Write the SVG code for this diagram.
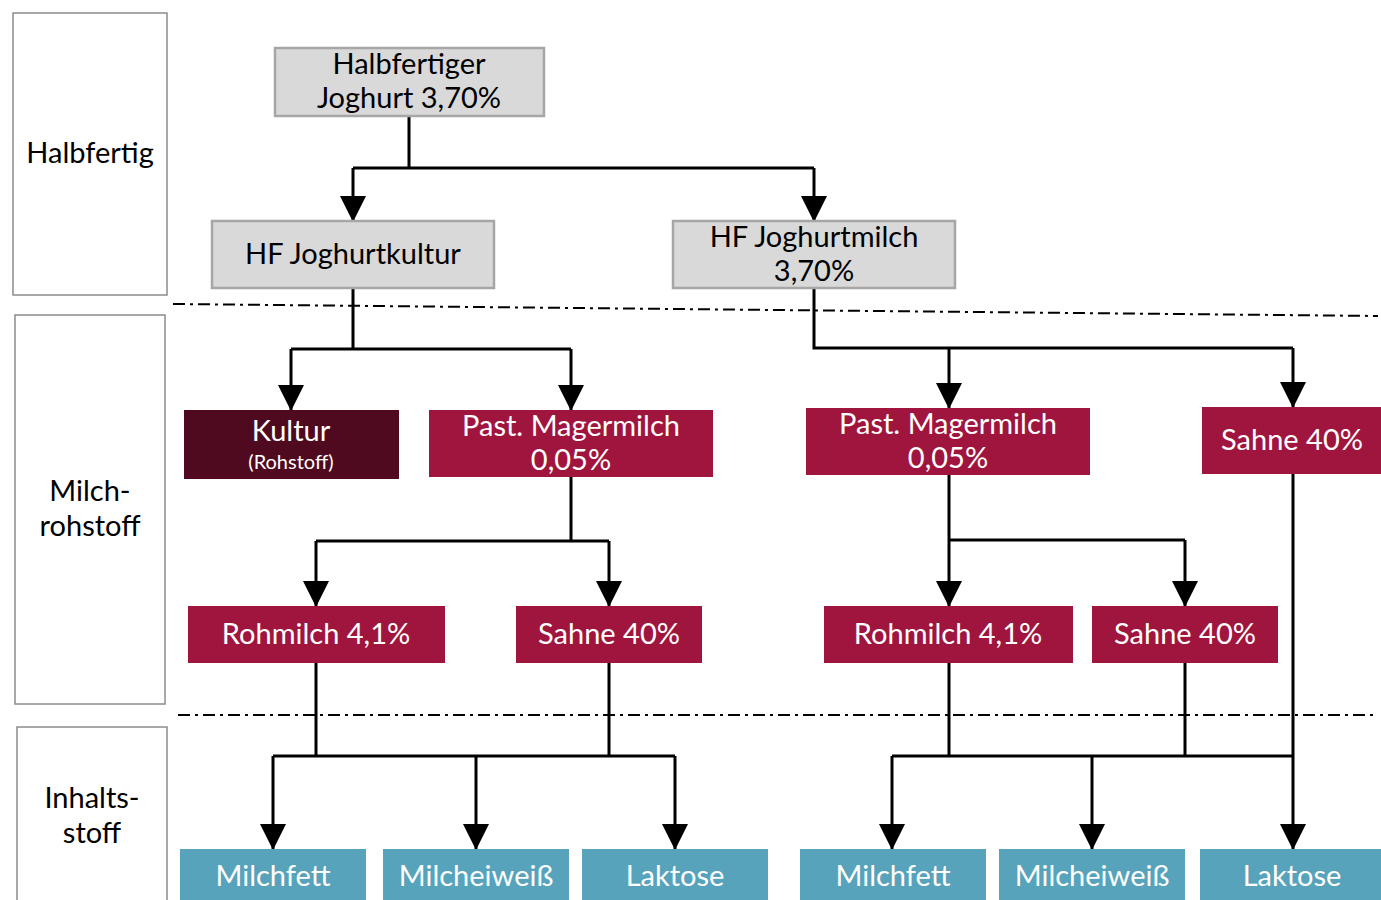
<svg xmlns="http://www.w3.org/2000/svg" width="1381" height="900" viewBox="0 0 1381 900">
<defs>
<marker id="ah" markerWidth="26" markerHeight="26" viewBox="0 0 26 26" refX="25" refY="13" orient="auto" markerUnits="userSpaceOnUse">
<path d="M0,0 L26,13 L0,26 Z" fill="#000"/>
</marker>
<style>
text{font-family:Lato,"Open Sans","Liberation Sans",sans-serif;font-size:29px;text-anchor:middle}
.lab{fill:#fff;stroke:#8c8c8c;stroke-width:1.5}
.hf{fill:#d9d9d9;stroke:#a6a6a6;stroke-width:2.5}
.mr{fill:#a0153e}
.ku{fill:#4f0a1f}
.is{fill:#57a3bb}
.w{fill:#fff}
.k{fill:#000}
.c path{fill:none;stroke:#000;stroke-width:3}
.arr{marker-end:url(#ah)}
.dd{fill:none;stroke:#000;stroke-width:2;stroke-dasharray:12,5,3,5}
</style>
</defs>
<rect width="1381" height="900" fill="#fff"/>
<g id="lane-halbfertig"><rect class="lab" x="13" y="13" width="154" height="282"/><text class="k" x="90" y="163">Halbfertig</text></g>
<g id="lane-milchrohstoff"><rect class="lab" x="15" y="315" width="150" height="389"/><text class="k" x="90" y="501">Milch-</text><text class="k" x="90" y="536">rohstoff</text></g>
<g id="lane-inhaltsstoff"><rect class="lab" x="17" y="727" width="150" height="190"/><text class="k" x="92" y="808">Inhalts-</text><text class="k" x="92" y="843">stoff</text></g>
<g id="separators">
<path class="dd" d="M173,304 L1378,316"/>
<path class="dd" d="M178,715 L1378,715"/>
</g>
<g class="c" id="connectors">
<path d="M409,116 V168 M353,168 H814"/>
<path class="arr" d="M353,168 V221"/>
<path class="arr" d="M814,168 V221"/>
<path d="M353,288 V349 M291,349 H571"/>
<path class="arr" d="M291,349 V410"/>
<path class="arr" d="M571,349 V410"/>
<path d="M814,288 V348 H1293"/>
<path class="arr" d="M949,348 V408"/>
<path class="arr" d="M1293,348 V407"/>
<path d="M571,477 V541 M316,541 H609"/>
<path class="arr" d="M316,541 V606"/>
<path class="arr" d="M609,541 V606"/>
<path class="arr" d="M949,475 V606"/>
<path d="M949,540 H1185"/>
<path class="arr" d="M1185,540 V606"/>
<path d="M316,663 V756 M609,663 V756 M273,756 H675"/>
<path class="arr" d="M273,756 V849"/>
<path class="arr" d="M476,756 V849"/>
<path class="arr" d="M675,756 V849"/>
<path d="M949,663 V756 M1185,663 V756 M892,756 H1293"/>
<path class="arr" d="M892,756 V849"/>
<path class="arr" d="M1092,756 V849"/>
<path class="arr" d="M1293,474 V849"/>
</g>
<g id="n-halbfertiger-joghurt"><rect class="hf" x="275" y="48" width="269" height="68"/><text class="k" x="409" y="74">Halbfertiger</text><text class="k" x="409" y="108">Joghurt 3,70%</text></g>
<g id="n-hf-joghurtkultur"><rect class="hf" x="212" y="221" width="282" height="67"/><text class="k" x="353" y="264">HF Joghurtkultur</text></g>
<g id="n-hf-joghurtmilch"><rect class="hf" x="673" y="221" width="282" height="67"/><text class="k" x="814" y="247">HF Joghurtmilch</text><text class="k" x="814" y="281">3,70%</text></g>
<g id="n-kultur"><rect class="ku" x="184" y="410" width="215" height="69"/><text class="w" x="291" y="441">Kultur</text><text class="w" x="291" y="469" style="font-size:20px">(Rohstoff)</text></g>
<g id="n-past-magermilch-1"><rect class="mr" x="429" y="410" width="284" height="67"/><text class="w" x="571" y="436">Past. Magermilch</text><text class="w" x="571" y="470">0,05%</text></g>
<g id="n-past-magermilch-2"><rect class="mr" x="806" y="408" width="284" height="67"/><text class="w" x="948" y="434">Past. Magermilch</text><text class="w" x="948" y="468">0,05%</text></g>
<g id="n-sahne-40-3"><rect class="mr" x="1202" y="407" width="179" height="67"/><text class="w" x="1292" y="450">Sahne 40%</text></g>
<g id="n-rohmilch-1"><rect class="mr" x="188" y="606" width="257" height="57"/><text class="w" x="316" y="644">Rohmilch 4,1%</text></g>
<g id="n-sahne-40-1"><rect class="mr" x="516" y="606" width="186" height="57"/><text class="w" x="609" y="644">Sahne 40%</text></g>
<g id="n-rohmilch-2"><rect class="mr" x="824" y="606" width="249" height="57"/><text class="w" x="948" y="644">Rohmilch 4,1%</text></g>
<g id="n-sahne-40-2"><rect class="mr" x="1092" y="606" width="186" height="57"/><text class="w" x="1185" y="644">Sahne 40%</text></g>
<g id="n-milchfett-1"><rect class="is" x="180" y="849" width="186" height="60"/><text class="w" x="273" y="886">Milchfett</text></g>
<g id="n-milcheiweiss-1"><rect class="is" x="383" y="849" width="186" height="60"/><text class="w" x="476" y="886">Milcheiweiß</text></g>
<g id="n-laktose-1"><rect class="is" x="582" y="849" width="186" height="60"/><text class="w" x="675" y="886">Laktose</text></g>
<g id="n-milchfett-2"><rect class="is" x="800" y="849" width="186" height="60"/><text class="w" x="893" y="886">Milchfett</text></g>
<g id="n-milcheiweiss-2"><rect class="is" x="999" y="849" width="186" height="60"/><text class="w" x="1092" y="886">Milcheiweiß</text></g>
<g id="n-laktose-2"><rect class="is" x="1200" y="849" width="181" height="60"/><text class="w" x="1292" y="886">Laktose</text></g>
</svg>
